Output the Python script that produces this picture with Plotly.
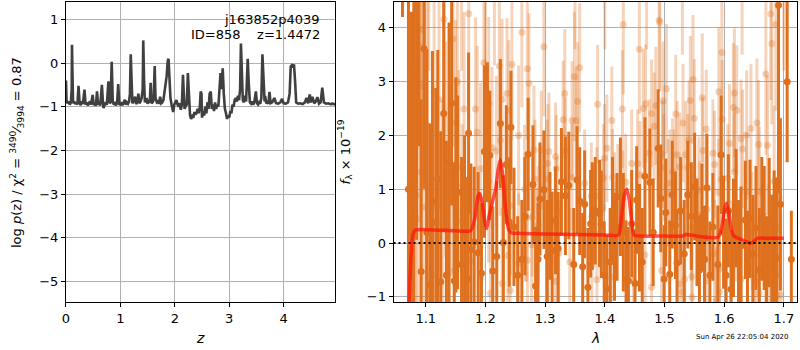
import plotly.graph_objects as go

# ---------------- left panel: log p(z) ----------------
z_grid = [0.00, 0.01, 0.03, 0.05, 0.07, 0.09, 0.105, 0.11, 0.12, 0.13,
          0.15, 0.17, 0.19, 0.21, 0.23, 0.25, 0.27, 0.29, 0.31, 0.34,
          0.36, 0.38, 0.40, 0.42, 0.44, 0.46, 0.49, 0.51, 0.53, 0.55,
          0.57, 0.59, 0.61, 0.63, 0.66, 0.68, 0.69, 0.71, 0.73, 0.75,
          0.78, 0.80, 0.82, 0.84, 0.86, 0.88, 0.90, 0.92, 0.94, 0.96,
          0.98, 1.00, 1.02, 1.04, 1.06, 1.08, 1.10, 1.12, 1.14, 1.16,
          1.175, 1.19, 1.205, 1.22, 1.24, 1.27, 1.29, 1.31, 1.33, 1.35,
          1.37, 1.39, 1.41, 1.42, 1.435, 1.45, 1.48, 1.50, 1.52, 1.54,
          1.556, 1.57, 1.59, 1.61, 1.63, 1.645, 1.67, 1.69, 1.71, 1.73,
          1.75, 1.77, 1.79, 1.81, 1.83, 1.85, 1.87, 1.885, 1.90, 1.92,
          1.94, 1.96, 1.97, 1.99, 2.01, 2.03, 2.05, 2.07, 2.09, 2.11,
          2.13, 2.15, 2.165, 2.18, 2.20, 2.22, 2.24, 2.26, 2.28, 2.30,
          2.32, 2.34, 2.36, 2.38, 2.40, 2.42, 2.44, 2.46, 2.475, 2.49,
          2.50, 2.52, 2.54, 2.56, 2.58, 2.60, 2.62, 2.64, 2.66, 2.68,
          2.70, 2.72, 2.74, 2.76, 2.78, 2.80, 2.82, 2.84, 2.86, 2.88,
          2.90, 2.92, 2.94, 2.96, 2.98, 3.00, 3.02, 3.04, 3.06, 3.08,
          3.10, 3.12, 3.14, 3.16, 3.18, 3.20, 3.215, 3.23, 3.25, 3.27,
          3.29, 3.31, 3.33, 3.34, 3.36, 3.38, 3.40, 3.42, 3.44, 3.46,
          3.49, 3.51, 3.53, 3.55, 3.57, 3.59, 3.61, 3.63, 3.65, 3.66,
          3.68, 3.70, 3.72, 3.74, 3.76, 3.79, 3.83, 3.86, 3.90, 3.94,
          3.97, 4.00, 4.04, 4.08, 4.11, 4.13, 4.15, 4.17, 4.19, 4.21,
          4.23, 4.27, 4.31, 4.35, 4.39, 4.42, 4.45, 4.48, 4.50, 4.53,
          4.56, 4.59, 4.62, 4.65, 4.68, 4.71, 4.74, 4.78, 4.82, 4.86,
          4.90, 4.95]
logp = [-0.40, -0.85, -0.92, -0.88, -0.95, -0.90, -0.60, 0.42, -0.30, -0.92,
        -0.88, -0.94, -0.90, -0.95, -0.52, -0.92, -0.96, -0.88, -0.94, -0.61,
        -0.95, -0.90, -0.97, -0.92, -0.88, -0.95, -0.73, -0.96, -0.92, -0.98,
        -0.65, -0.95, -0.92, -0.97, -0.50, -0.93, -1.03, -0.95, -0.90, -0.96,
        -0.42, -0.92, -0.90, 0.03, -0.88, -0.95, -0.92, -0.97, -0.90, -0.48,
        -0.94, -0.95, -0.90, -0.96, -0.92, -0.84, -0.95, -0.90, -0.93, -0.88,
        -0.70, 0.20, -0.60, -0.92, -0.88, -0.77, -0.94, -0.90, -0.70, -0.92,
        -0.88, -0.80, -0.60, 0.52, -0.40, -0.90, -0.80, -0.93, -0.88, -0.90,
        -0.45, -0.92, -0.90, -0.85, -0.07, -0.80, -0.90, -0.88, -0.93, -0.77,
        -0.92, -0.90, -0.85, -0.70, -0.50, -0.30, 0.05, 0.10, -0.30, -0.80,
        -0.95, -1.05, -1.12, -0.95, -0.90, -0.85, -0.95, -1.00, -0.92, -1.07,
        -0.95, -0.27, -0.70, -1.05, -0.98, -0.95, -0.23, -0.80, -1.20, -1.28,
        -1.22, -1.25, -1.12, -1.18, -1.14, -1.05, -1.15, -1.00, -0.65, -0.70,
        -1.25, -1.10, -1.20, -1.00, -1.15, -0.90, -1.05, -0.70, -0.65, -1.05,
        -0.95, -1.10, -0.90, -1.05, -0.95, -1.00, -0.60, -0.23, -0.60, -0.12,
        -0.70, -1.05, -1.15, -1.28, -1.20, -1.25, -1.10, -1.15, -0.95, -1.00,
        -0.85, -0.80, -0.88, -0.75, -0.85, -0.60, 0.45, -0.30, -0.85, -0.90,
        -0.75, -0.88, -0.30, 0.10, -0.50, -0.90, -0.93, -0.88, -0.95, -0.90,
        -0.65, -0.92, -0.95, -0.90, -0.93, -0.80, 0.20, -0.30, -0.88, -0.75,
        -0.92, -0.90, -0.93, -0.66, -0.92, -0.90, -0.80, -0.92, -0.93, -0.90,
        -0.82, -0.92, -0.93, -0.90, -0.70, -0.08, -0.05, -0.10, -0.03, -0.40,
        -0.90, -0.93, -0.92, -0.94, -0.90, -0.80, -0.92, -0.72, -0.90, -0.77,
        -0.92, -0.88, -0.78, -0.93, -0.90, -0.56, -0.90, -0.93, -0.92, -0.94,
        -0.93, -0.95]

# ---------------- right panel: spectrum ----------------
wl_dark = [1.061, 1.071, 1.076, 1.080, 1.0846, 1.0885, 1.0923, 1.097, 1.1018, 1.1068,
           1.1112, 1.1168, 1.1201, 1.1251, 1.1301, 1.1345, 1.139, 1.1434, 1.1478, 1.1505,
           1.1534, 1.160, 1.165, 1.170, 1.1717, 1.1756, 1.1811, 1.1878, 1.1933, 1.1983,
           1.2033, 1.2072, 1.2122, 1.2189, 1.225, 1.230, 1.2349, 1.2399, 1.2427, 1.2477,
           1.254, 1.261, 1.266, 1.2716, 1.2796, 1.284, 1.288, 1.2913, 1.298, 1.3035,
           1.308, 1.3118, 1.3174, 1.3218, 1.3273, 1.334, 1.3396, 1.3479, 1.3534, 1.3579,
           1.3629, 1.3662, 1.3717, 1.3762, 1.379, 1.384, 1.3912, 1.394, 1.399, 1.4034,
           1.409, 1.4128, 1.4162, 1.4205, 1.4261, 1.431, 1.4356, 1.4395, 1.445, 1.4506,
           1.4533, 1.458, 1.4627, 1.4672, 1.4755, 1.481, 1.4894, 1.4938, 1.4994, 1.5022,
           1.5088, 1.513, 1.5183, 1.521, 1.527, 1.533, 1.539, 1.5449, 1.5505, 1.5544,
           1.5585, 1.5627, 1.567, 1.571, 1.576, 1.581, 1.5893, 1.5949, 1.599, 1.6032,
           1.607, 1.6115, 1.6155, 1.6199, 1.624, 1.6282, 1.6354, 1.639, 1.6432, 1.648,
           1.6532, 1.6587, 1.663, 1.667, 1.671, 1.6754, 1.6796, 1.6837, 1.6876, 1.691,
           1.6942, 1.7055, 1.7125]
fl_dark = [6.0, 1.0, -0.2, 0.4, 3.06, 4.8, -0.53, 3.61, 0.2, -0.78,
           0.77, 0.38, 1.19, -0.72, 2.41, -0.6, 1.5, 2.6, -0.7, 1.08,
           0.94, -0.4, 0.2, -0.67, 2.04, -0.12, 0.02, -0.18, -0.56, 1.7,
           2.06, 1.63, -0.52, -0.25, 2.22, 0.01, 1.46, 0.39, 2.15, 0.3,
           -0.6, -0.3, 0.5, 1.65, 1.09, -0.8, -0.3, 0.82, 0.99, -0.25,
           0.32, -0.14, 0.42, -0.1, 1.14, 0.88, 1.07, -0.4, 1.17, 0.78,
           -0.44, 0.72, -0.82, 0.36, 0.5, 0.6, 0.55, 0.35, -0.6, -0.85,
           -0.35, 0.6, -0.07, 0.3, 0.86, 0.2, -0.68, -0.7, 0.36, -0.75,
           0.8, 0.1, -0.35, 1.24, 1.13, 0.2, 1.76, 0.83, -0.67, 0.57,
           -0.58, 0.9, 0.33, -0.37, 0.6, -0.2, 0.9, 0.5, 1.05, 0.2,
           -0.5, 0.48, -0.3, 1.03, -0.6, 0.3, -0.4, 1.64, 0.2, -0.6,
           0.6, -0.86, 0.1, 0.65, -0.3, -0.05, 0.43, -0.5, 0.45, -0.2,
           0.28, -0.5, 0.45, 0.28, -0.7, 0.38, -0.4, -0.05, -0.28, 4.42,
           0.72, 3.0, -0.3]
err_dark = [1.8, 4.5, 4.5, 4.2, 3.0, 3.0, 3.2, 2.6, 3.4, 3.0,
            2.8, 2.5, 2.4, 2.8, 2.2, 2.5, 2.6, 1.9, 2.2, 2.0,
            1.8, 2.0, 1.8, 1.9, 1.5, 1.6, 1.4, 1.5, 1.3, 1.6,
            1.3, 1.2, 1.2, 1.4, 1.2, 1.25, 1.1, 1.2, 1.05, 1.1,
            1.1, 1.1, 1.1, 1.05, 1.1, 1.1, 1.05, 1.05, 1.1, 1.05,
            1.0, 1.1, 1.0, 1.05, 1.0, 1.1, 1.0, 1.05, 1.0, 1.0,
            1.0, 1.0, 1.1, 1.0, 1.0, 1.0, 1.0, 1.0, 1.0, 1.0,
            1.0, 1.0, 1.0, 1.0, 1.1, 1.1, 1.1, 1.0, 1.0, 1.0,
            1.0, 1.0, 1.0, 1.1, 1.0, 1.0, 1.1, 1.0, 1.0, 1.0,
            1.0, 1.0, 1.0, 1.0, 1.0, 1.0, 1.0, 1.0, 1.0, 1.0,
            1.0, 1.0, 1.0, 1.0, 1.0, 1.0, 1.1, 1.1, 1.05, 1.05,
            1.05, 1.1, 1.1, 1.1, 1.1, 1.1, 1.1, 1.1, 1.1, 1.1,
            1.15, 1.15, 1.15, 1.15, 1.2, 1.2, 1.3, 1.4, 1.5, 3.5,
            1.6, 1.5, 0.9]

wl_light = [1.172, 1.1306, 1.0934, 1.1456, 1.0835, 1.0918, 1.1528, 1.114, 1.1223, 1.164,
            1.1834, 1.2055, 1.1973, 1.2233, 1.2444, 1.261, 1.2278, 1.2361, 1.2389, 1.1029,
            1.15, 1.1862, 1.225, 1.2111, 1.1334, 1.2183, 1.2555, 1.1556, 1.1917, 1.0918,
            1.1434, 1.2055, 1.2655, 1.0835, 1.1279, 1.2416, 1.0975, 1.161, 1.0865, 1.2666,
            1.175, 1.2377, 1.1473, 1.1112, 1.1362, 1.1917, 1.2555, 1.2083, 1.2278, 1.0751,
            1.2416,
            1.431, 1.491, 1.4578, 1.2979, 1.3579, 1.349, 1.2702, 1.273, 1.3329, 1.3545,
            1.3878, 1.4295, 1.4644, 1.4683, 1.4855, 1.4783, 1.4827, 1.3301, 1.3451, 1.3518,
            1.4117, 1.4034, 1.2813, 1.2935, 1.3063, 1.334, 1.3995, 1.4744, 1.445, 1.455,
            1.4589, 1.3046, 1.3174, 1.2829, 1.3035, 1.3185, 1.3451, 1.3662, 1.3978, 1.4128,
            1.435, 1.2691, 1.2785, 1.2885, 1.3202, 1.3773, 1.3867, 1.3962, 1.4162, 1.4217,
            1.43, 1.3812, 1.4173, 1.2774, 1.2868, 1.305, 1.3229, 1.3412, 1.3784, 1.3867,
            1.4117, 1.4478, 1.4672, 1.4783, 1.495, 1.2702, 1.3174,
            1.4922, 1.596, 1.6698, 1.6781, 1.6865, 1.6798, 1.5033, 1.5477, 1.5632, 1.4975,
            1.5433, 1.591, 1.6171, 1.6154, 1.621, 1.5965, 1.5188, 1.5499, 1.531, 1.5699,
            1.6448, 1.6548, 1.6376, 1.541, 1.5643, 1.581, 1.6088, 1.6282, 1.6309, 1.6576,
            1.6726, 1.4966, 1.5211, 1.5355, 1.4989, 1.5133, 1.5255, 1.5388, 1.5838, 1.5949,
            1.606, 1.6171, 1.6837, 1.5089, 1.5155, 1.5577, 1.591, 1.6376, 1.6587, 1.692,
            1.5061, 1.5588, 1.571, 1.5449, 1.6199, 1.6465, 1.6905, 1.5838, 1.6115, 1.6504,
            1.675, 1.5338, 1.546, 1.57, 1.592, 1.6282, 1.6531, 1.6687, 1.6892, 1.5255,
            1.5299, 1.5921, 1.6587, 1.6948, 1.546, 1.5866,
            1.105, 1.16, 1.20, 1.215, 1.35, 1.40, 1.47, 1.53, 1.63, 1.70]
fl_light = [4.26, 4.16, 3.97, 3.79, 3.3, 2.92, 3.0, 2.8, 2.67, 2.49,
            2.49, 2.6, 3.35, 3.29, 3.32, 3.92, 2.67, 2.78, 2.47, 2.18,
            2.24, 2.06, 1.91, 1.77, 1.74, 1.71, 2.0, 1.41, 1.38, 1.32,
            1.28, 1.14, 1.0, 0.89, 0.67, 0.7, 0.67, 0.41, 0.45, 0.49,
            -0.33, -0.23, -0.51, -0.6, -0.6, -0.65, -0.38, -0.93, -0.75, -0.3,
            -0.88,
            4.06, 4.14, 3.6, 3.65, 3.26, 3.09, 3.24, 2.97, 2.78, 2.63,
            2.58, 2.49, 2.5, 2.59, 2.55, 2.41, 2.17, 2.29, 2.28, 2.28,
            2.28, 1.76, 1.73, 1.73, 1.7, 1.71, 1.58, 1.67, 1.48, 1.48,
            1.27, 1.48, 1.61, 1.19, 1.19, 1.38, 1.22, 1.11, 1.21, 1.22,
            1.13, 0.48, 0.48, 0.33, 0.6, 0.87, 0.88, 0.66, 0.79, 0.94,
            0.82, 0.57, 0.25, -0.03, -0.07, -0.2, -0.19, -0.35, -0.41, -0.68,
            -0.63, -0.71, -0.22, -0.82, -0.51, -0.32, -0.71,
            4.11, 3.54, 3.14, 4.26, 4.06, 3.71, 2.87, 3.04, 2.7, 2.64,
            2.65, 2.81, 2.79, 2.52, 2.47, 2.3, 2.4, 2.32, 2.23, 2.12,
            2.13, 2.23, 2.01, 1.92, 1.72, 1.67, 1.85, 1.94, 1.75, 1.83,
            1.82, 1.65, 1.64, 1.64, 1.4, 1.32, 1.42, 1.4, 1.46, 1.18,
            1.21, 1.32, 1.15, 1.11, 1.11, 0.98, 0.94, 0.95, 0.96, 0.84,
            0.93, 0.52, 0.63, 0.3, 0.38, 0.22, 0.27, -0.2, -0.31, -0.23,
            -0.2, -0.67, -0.62, -0.7, -0.48, -0.67, -0.73, -0.65, -0.6, -0.76,
            -0.91, -0.91, -0.93, -0.97, -1.0, -1.07,
            5.2, 5.0, 5.3, 4.9, 4.9, 4.8, 4.9, 4.8, 4.9, 5.0]
err_light = [2.0, 2.2, 2.5, 2.0, 2.6, 2.4, 1.9, 2.2, 2.0, 1.8,
             1.7, 1.6, 1.7, 1.5, 1.4, 1.4, 1.5, 1.4, 1.3, 2.3,
             1.9, 1.6, 1.4, 1.5, 2.0, 1.4, 1.3, 1.8, 1.6, 2.4,
             1.9, 1.5, 1.2, 2.5, 2.0, 1.3, 2.3, 1.8, 2.5, 1.2,
             1.7, 1.3, 1.9, 2.1, 2.0, 1.6, 1.3, 1.5, 1.4, 2.6,
             1.3,
             1.3, 1.3, 1.2, 1.3, 1.2, 1.2, 1.3, 1.3, 1.2, 1.1,
             1.1, 1.1, 1.1, 1.1, 1.1, 1.0, 1.0, 1.1, 1.1, 1.0,
             1.0, 1.0, 1.2, 1.1, 1.1, 1.0, 1.0, 1.0, 1.0, 1.0,
             1.0, 1.1, 1.0, 1.1, 1.1, 1.0, 1.0, 1.0, 1.0, 0.9,
             0.9, 1.2, 1.1, 1.1, 1.0, 1.0, 0.9, 0.9, 0.9, 0.9,
             0.9, 0.9, 0.9, 1.1, 1.1, 1.0, 1.0, 1.0, 0.9, 0.9,
             0.9, 0.9, 0.9, 0.9, 0.9, 1.1, 1.0,
             1.3, 1.3, 1.5, 1.6, 1.6, 1.5, 1.2, 1.2, 1.2, 1.1,
             1.2, 1.2, 1.2, 1.2, 1.2, 1.1, 1.1, 1.1, 1.1, 1.1,
             1.2, 1.2, 1.2, 1.1, 1.0, 1.0, 1.1, 1.1, 1.1, 1.2,
             1.3, 1.0, 1.0, 1.0, 1.0, 1.0, 1.0, 1.0, 1.0, 1.0,
             1.0, 1.1, 1.4, 1.0, 1.0, 1.0, 1.0, 1.1, 1.2, 1.5,
             1.0, 1.0, 1.0, 1.0, 1.1, 1.1, 1.4, 1.0, 1.1, 1.1,
             1.3, 1.0, 1.0, 1.0, 1.0, 1.1, 1.2, 1.2, 1.4, 1.0,
             1.0, 1.0, 1.2, 1.5, 1.0, 1.0,
             2.0, 1.8, 2.0, 1.6, 1.3, 1.2, 1.3, 1.3, 1.4, 1.8]

wl_model = [1.072, 1.075, 1.078, 1.082, 1.09, 1.12, 1.15, 1.175, 1.182, 1.187,
            1.19, 1.194, 1.199, 1.202, 1.206, 1.212, 1.217, 1.221, 1.225, 1.229,
            1.234, 1.239, 1.244, 1.26, 1.30, 1.35, 1.40, 1.423, 1.428, 1.433,
            1.437, 1.441, 1.445, 1.449, 1.46, 1.50, 1.53, 1.536, 1.545, 1.56,
            1.59, 1.596, 1.601, 1.604, 1.608, 1.612, 1.617, 1.628, 1.638, 1.645,
            1.65, 1.656, 1.67, 1.69, 1.70]
fl_model = [-1.1, -0.3, 0.12, 0.24, 0.25, 0.24, 0.23, 0.23, 0.45, 0.85,
            0.92, 0.78, 0.38, 0.27, 0.5, 0.78, 1.0, 1.35, 1.55, 1.25,
            0.6, 0.25, 0.19, 0.18, 0.17, 0.16, 0.15, 0.15, 0.5, 0.9,
            1.0, 0.8, 0.4, 0.15, 0.13, 0.13, 0.13, 0.16, 0.15, 0.12,
            0.11, 0.3, 0.65, 0.74, 0.55, 0.25, 0.12, 0.07, 0.02, 0.0,
            0.03, 0.09, 0.09, 0.09, 0.09]

DARK = "rgb(222,112,30)"
LIGHT = "rgba(222,112,30,0.3)"
FONT = "DejaVu Sans"

fig = go.Figure()

fig.add_trace(go.Scatter(
    x=z_grid, y=logp, mode="lines", xaxis="x", yaxis="y",
    line=dict(color="#404040", width=2.6), hoverinfo="skip"))

fig.add_trace(go.Scatter(
    x=wl_light, y=fl_light, mode="markers", xaxis="x2", yaxis="y2",
    marker=dict(color=LIGHT, size=7, line=dict(width=0)),
    error_y=dict(type="data", array=err_light, color=LIGHT, thickness=3, width=0),
    hoverinfo="skip"))

fig.add_trace(go.Scatter(
    x=wl_dark, y=fl_dark, mode="markers", xaxis="x2", yaxis="y2",
    marker=dict(color=DARK, size=7, line=dict(width=0)),
    error_y=dict(type="data", array=err_dark, color=DARK, thickness=3, width=0),
    hoverinfo="skip"))

fig.add_trace(go.Scatter(
    x=wl_model, y=fl_model, mode="lines", xaxis="x2", yaxis="y2",
    line=dict(color="rgba(255,20,10,0.72)", width=3.5, shape="spline", smoothing=0.6),
    hoverinfo="skip"))

fig.add_shape(type="line", xref="x2 domain", x0=0, x1=1, yref="y2", y0=0, y1=0,
              line=dict(color="black", width=2, dash="2px,3px"), layer="above")

ydom = [1 - 304 / 350, 1 - 2 / 350]
axis_common = dict(showline=True, mirror=True, linecolor="black", linewidth=1,
                   ticks="outside", ticklen=4, tickcolor="black", tickwidth=1,
                   showgrid=True, gridcolor="#b0b0b0", gridwidth=1, zeroline=False,
                   tickfont=dict(family=FONT, size=13, color="black"))

fig.update_layout(
    width=800, height=350, margin=dict(l=0, r=0, t=0, b=0),
    paper_bgcolor="white", plot_bgcolor="white", showlegend=False,
    font=dict(family=FONT, color="black"),
    xaxis=dict(domain=[62.3 / 800, 333 / 800], range=[0, 4.95], anchor="y",
               tickvals=[0, 1, 2, 3, 4], **axis_common),
    yaxis=dict(domain=ydom, range=[-5.48, 1.4], anchor="x",
               tickvals=[-5, -4, -3, -2, -1, 0, 1], **axis_common),
    xaxis2=dict(domain=[391.5 / 800, 797 / 800], range=[1.046, 1.722], anchor="y2",
                tickvals=[1.1, 1.2, 1.3, 1.4, 1.5, 1.6, 1.7], **axis_common),
    yaxis2=dict(domain=ydom, range=[-1.1, 4.48], anchor="x2",
                tickvals=[-1, 0, 1, 2, 3, 4], **axis_common),
)

ann = []
ann.append(dict(text="j163852p4039", x=320 / 800, y=1 - 20 / 350, xref="paper", yref="paper",
                xanchor="right", yanchor="middle", showarrow=False,
                font=dict(family=FONT, size=13, color="black")))
ann.append(dict(text="ID=858\u00a0\u00a0\u00a0\u00a0z=1.4472", x=320 / 800, y=1 - 35 / 350,
                xref="paper", yref="paper", xanchor="right", yanchor="middle", showarrow=False,
                font=dict(family=FONT, size=13, color="black")))
ann.append(dict(text="log <i>p</i>(z) / χ<sup>2</sup> = <sup>3490</sup>⁄<sub>3994</sub> = 0.87",
                x=13 / 800, y=1 - 153 / 350, xref="paper", yref="paper", textangle=-90,
                xanchor="center", yanchor="middle", showarrow=False,
                font=dict(family=FONT, size=13, color="black")))
ann.append(dict(text="<i>f</i><sub>λ</sub> × 10<sup>−19</sup>",
                x=343 / 800, y=1 - 153 / 350, xref="paper", yref="paper", textangle=-90,
                xanchor="center", yanchor="middle", showarrow=False,
                font=dict(family=FONT, size=13, color="black")))
ann.append(dict(text="<i>z</i>", x=197 / 800, y=1 - 340 / 350, xref="paper", yref="paper",
                xanchor="center", yanchor="middle", showarrow=False,
                font=dict(family=FONT, size=14, color="black")))
ann.append(dict(text="<i>λ</i>", x=594 / 800, y=1 - 340 / 350, xref="paper", yref="paper",
                xanchor="center", yanchor="middle", showarrow=False,
                font=dict(family=FONT, size=14, color="black")))
ann.append(dict(text="Sun Apr 26 22:05:04 2020", x=742 / 800, y=1 - 339 / 350,
                xref="paper", yref="paper", xanchor="center", yanchor="middle",
                showarrow=False, font=dict(family=FONT, size=7, color="black")))
fig.update_layout(annotations=ann)

fig.write_html("out.html", config={"displayModeBar": False, "staticPlot": True},
               post_script="document.body.style.margin='0';document.body.style.padding='0';")
